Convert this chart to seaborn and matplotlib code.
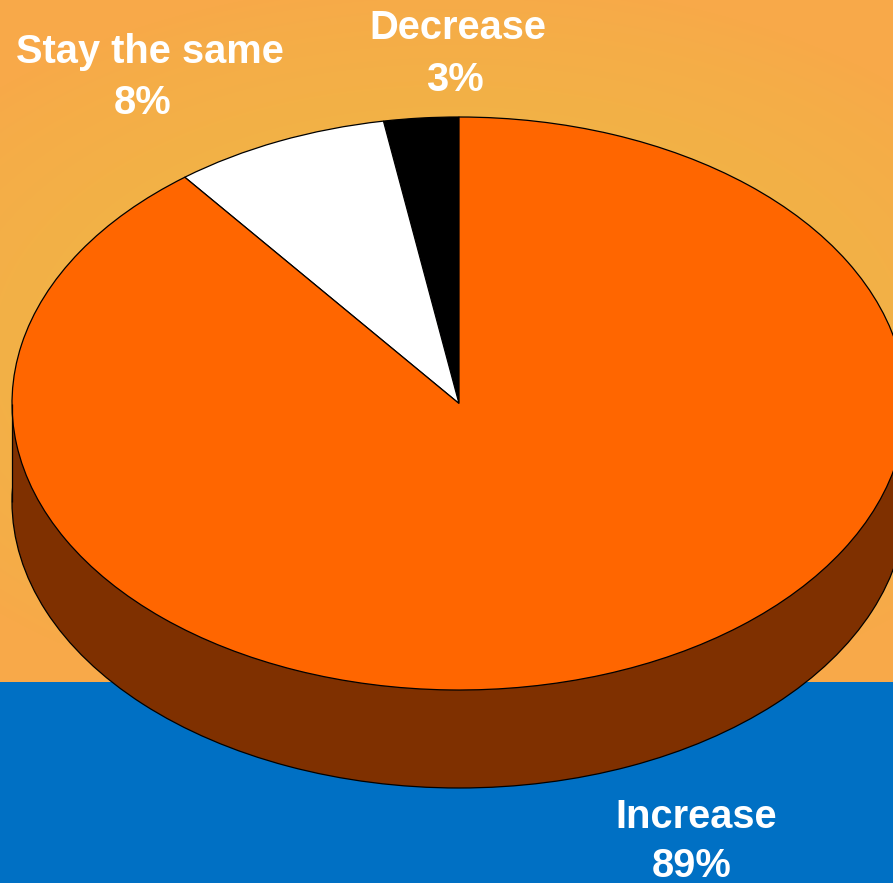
import matplotlib
matplotlib.use("Agg")
import matplotlib.pyplot as plt
import seaborn as sns
import numpy as np

categories = ["Decrease", "Stay the same", "Increase"]
shares = [2.7, 7.8, 89.4]
slice_colors = ["#000000", "#FFFFFF", "#FF6600"]
side_color = "#7F3000"

sns.set_theme(style="white")
plt.rcParams["font.family"] = ["Liberation Sans", "DejaVu Sans"]

W, H = 893, 883
fig = plt.figure(figsize=(W / 100, H / 100), dpi=100)

# background, soft glow in the orange and the blue band at the bottom
bg = fig.add_axes([0, 0, 1, 1])
yy, xx = np.mgrid[0:H, 0:W]
glow = np.clip(1 - np.hypot((xx - 450) / 640, (yy - 350) / 370), 0, 1)
edge = np.array([248, 169, 73]) / 255
mid = np.array([236, 186, 68]) / 255
img = edge + (mid - edge) * (glow ** 0.7)[..., None]
bg.imshow(img, extent=(0, W, H, 0), aspect="auto")
bg.axhspan(682, H, color="#0070C4", lw=0)
bg.set_xlim(0, W)
bg.set_ylim(H, 0)
bg.axis("off")

# pie squashed into an ellipse, side wall underneath
cx, cy, rx, ry, depth = 459, 403.5, 447, 286.5, 98
ax = fig.add_axes([0, 0, 1, 1])
ax.patch.set_alpha(0)
d = depth / ry
edge_style = {"edgecolor": "black", "linewidth": 0.9}

ax.pie([1], colors=[side_color], center=(0, -d), radius=1, wedgeprops=edge_style)
ax.fill_between([-1, 1], -d, 0, color=side_color, lw=0)
ax.vlines([-1, 1], -d, 0, color="black", lw=0.9)
ax.pie(shares, colors=slice_colors, startangle=90, counterclock=True,
       radius=1, wedgeprops=edge_style)

ax.set_aspect("auto")
ax.set_xlim(-cx / rx, (W - cx) / rx)
ax.set_ylim(-(H - cy) / ry, cy / ry)
ax.axis("off")

# (name x, name y, value x, value y) in picture pixels
label_pos = [(458, 28, 455, 80), (150, 52, 143, 103), (696, 817, 692, 866)]
for name, share, (nx, ny, vx, vy) in zip(categories, shares, label_pos):
    fig.text(nx / W, 1 - ny / H, name, color="white", fontsize=28.7, fontweight="bold",
             ha="center", va="center")
    fig.text(vx / W, 1 - vy / H, f"{share:.0f}%", color="white", fontsize=28.7,
             fontweight="bold", ha="center", va="center")

fig.savefig("out.png", dpi=100)
